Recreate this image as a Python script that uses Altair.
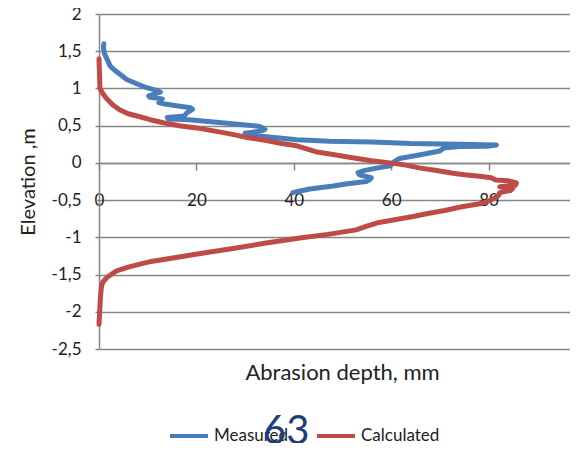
import altair as alt
import pandas as pd

# ---- data ----
series_names = ["Measured", "Calculated"]
series_colors = ["#4A7EBB", "#BE4B48"]

meas_depth = [1.0, 0.9, 1.1, 1.6, 2.3, 3.5, 5.7, 7.5, 9.8, 12.0, 12.6, 10.2, 10.5, 13.0,
              12.3, 13.5, 16.6, 18.8, 19.2, 18.0, 17.5, 14.0, 14.3, 18.5, 26.9, 33.0,
              34.1, 33.5, 30.0, 30.5, 34.4, 40.6, 47.4, 56.0, 64.0, 74.0, 81.6, 80.0,
              74.0, 70.8, 70.0, 66.0, 61.7, 60.3, 59.8, 57.0, 54.6, 53.2, 53.5, 55.9,
              55.5, 54.9, 51.0, 48.1, 43.3, 41.0, 39.8]
meas_elev = [1.60, 1.55, 1.47, 1.40, 1.30, 1.23, 1.12, 1.07, 1.01, 0.97, 0.95, 0.90, 0.88,
             0.86, 0.81, 0.79, 0.76, 0.74, 0.72, 0.67, 0.63, 0.61, 0.59, 0.58, 0.53, 0.49,
             0.45, 0.43, 0.40, 0.37, 0.35, 0.31, 0.29, 0.28, 0.26, 0.25, 0.24, 0.225,
             0.22, 0.20, 0.16, 0.11, 0.06, 0.00, -0.04, -0.07, -0.10, -0.13, -0.16, -0.20,
             -0.23, -0.25, -0.28, -0.31, -0.35, -0.38, -0.40]

calc_depth = [0.0, 0.1, 0.2, 0.8, 1.6, 2.8, 4.3, 6.0, 8.4, 10.5, 13.2, 16.5, 20.0, 23.5,
              26.9, 30.5, 34.4, 37.5, 40.6, 43.0, 44.5, 47.4, 52.0, 56.0, 59.7, 63.0,
              66.0, 69.0, 72.7, 75.0, 78.2, 80.5, 81.5, 84.0, 85.7, 85.5, 82.3, 85.0,
              84.5, 82.3, 82.0, 80.5, 78.2, 74.5, 71.0, 67.5, 64.5, 61.0, 57.5, 55.0,
              52.8, 47.0, 41.2, 34.0, 27.5, 20.5, 13.9, 11.0, 8.4, 6.0, 3.6, 2.5, 1.6,
              0.8, 0.5, 0.3, 0.2, 0.0]
calc_elev = [1.40, 1.20, 1.00, 0.93, 0.86, 0.78, 0.71, 0.66, 0.62, 0.58, 0.54, 0.50, 0.47,
             0.43, 0.39, 0.34, 0.30, 0.26, 0.23, 0.18, 0.15, 0.12, 0.07, 0.03, 0.00, -0.03,
             -0.07, -0.10, -0.14, -0.16, -0.18, -0.20, -0.23, -0.24, -0.27, -0.30, -0.32,
             -0.34, -0.37, -0.40, -0.44, -0.50, -0.55, -0.59, -0.64, -0.68, -0.72, -0.76,
             -0.80, -0.85, -0.90, -0.96, -1.01, -1.08, -1.15, -1.22, -1.29, -1.32, -1.36,
             -1.40, -1.45, -1.50, -1.54, -1.60, -1.66, -1.80, -1.93, -2.17]

x_ticks = [0, 20, 40, 60, 80, 100]
y_ticks = [-2.5, -2, -1.5, -1, -0.5, 0, 0.5, 1, 1.5, 2]
x_title = "Abrasion depth, mm"
y_title = "Elevation ,m"
page_number = "63"

rows = []
for i, (d, e) in enumerate(zip(meas_depth, meas_elev)):
    rows.append({"series": series_names[0], "depth": d, "elev": e, "idx": i})
for i, (d, e) in enumerate(zip(calc_depth, calc_elev)):
    rows.append({"series": series_names[1], "depth": d, "elev": e, "idx": i})
df = pd.DataFrame(rows)

FONT = "Lato"
GRID = "#868686"
TXT = "#222222"

lines = alt.Chart(df).mark_line(strokeWidth=5, strokeJoin="round", strokeCap="round").encode(
    x=alt.X("depth:Q",
            scale=alt.Scale(domain=[0, 100], nice=False, range=[0, 487]),
            axis=alt.Axis(values=x_ticks, title=x_title, offset=-186, grid=False,
                          domainColor=GRID, domainWidth=1.5, tickColor=GRID, tickWidth=1.5,
                          tickSize=7, labelPadding=22, labelFontSize=17, labelFont=FONT,
                          labelColor=TXT, labelFlush=False, labelOverlap=False,
                          titleX=243, titleY=209, titleBaseline="middle", titleFontSize=22,
                          titleFont=FONT, titleFontWeight="normal", titleColor=TXT)),
    y=alt.Y("elev:Q",
            scale=alt.Scale(domain=[-2.5, 2], nice=False),
            axis=alt.Axis(values=y_ticks, title=y_title, grid=True, gridColor=GRID,
                          gridWidth=1.5, domainColor=GRID, domainWidth=1.5,
                          tickColor=GRID, tickWidth=1.5, tickSize=4, labelPadding=14,
                          labelFontSize=17, labelFont=FONT, labelColor=TXT,
                          labelExpr="replace(toString(datum.value), '.', ',')",
                          labelOverlap=False, titlePadding=13, titleFontSize=20,
                          titleFont=FONT, titleFontWeight="normal", titleColor=TXT)),
    color=alt.Color("series:N",
                    scale=alt.Scale(domain=series_names, range=series_colors),
                    legend=alt.Legend(orient="none", legendX=69, legendY=401,
                                      direction="horizontal", title=None,
                                      symbolType="stroke", symbolStrokeWidth=4,
                                      symbolSize=1444, labelFont=FONT, labelFontSize=17,
                                      labelColor=TXT, labelOffset=4, columnPadding=20)),
    order="idx:Q",
)

chart = alt.layer(lines).properties(
    width=471, height=335,
    padding={"left": 91, "top": 6, "right": 0, "bottom": 94},
    autosize=alt.AutoSizeParams(type="none"),
    title=alt.TitleParams(text=page_number, orient="bottom", anchor="start", align="left",
                          baseline="alphabetic", dx=245, offset=0, fontSize=40,
                          font=FONT, fontWeight="normal", color="#1F3C7C"),
).configure_view(stroke=None)

chart.save("out.html", embed_options={"renderer": "svg", "actions": False})
